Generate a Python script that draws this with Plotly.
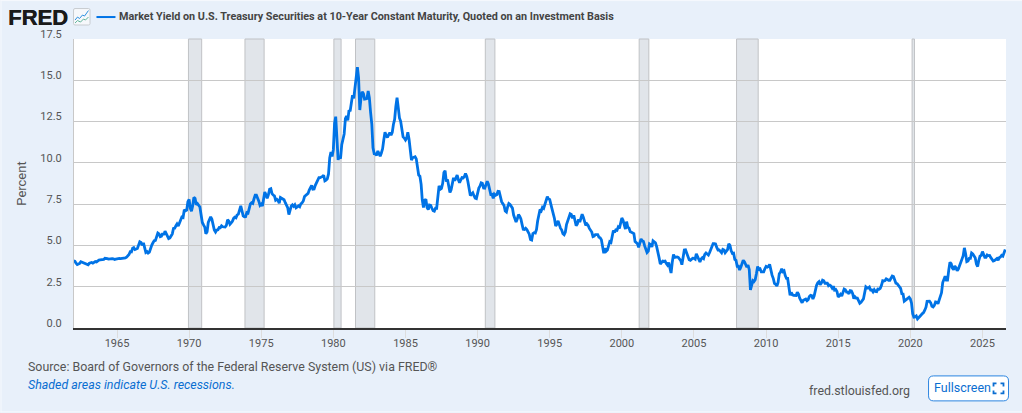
import pandas as pd
import plotly.graph_objects as go

W, H = 1022, 413
L, R, T, B = 73.5, 1006, 39, 328.5

BLUE = '#0073e6'
GREY_TEXT = '#555555'

# monthly yield, percent
y1960s = [
    4.08, 4.04, 3.93, 3.84, 3.87, 3.91, 4.01, 3.98, 3.98, 3.93, 3.92, 3.86,
    3.83, 3.92, 3.93, 3.97, 3.93, 3.99, 4.02, 4.00, 4.08, 4.11, 4.12, 4.13,
    4.17, 4.15, 4.22, 4.23, 4.20, 4.17, 4.19, 4.19, 4.20, 4.19, 4.15, 4.17,
    4.19, 4.21, 4.21, 4.20, 4.21, 4.21, 4.20, 4.25, 4.29, 4.35, 4.45, 4.62,
    4.61, 4.83, 4.87, 4.75, 4.78, 4.81, 5.02, 5.22, 5.18, 5.01, 5.16, 4.84,
    4.58, 4.63, 4.54, 4.59, 4.85, 5.02, 5.16, 5.28, 5.30, 5.48, 5.75, 5.70,
    5.53, 5.56, 5.74, 5.64, 5.87, 5.72, 5.50, 5.42, 5.46, 5.58, 5.70, 6.03,
    6.04, 6.19, 6.30, 6.17, 6.32, 6.57, 6.72, 6.69, 7.16, 7.10, 7.14, 7.65,
]
y1970s = [
    7.79, 7.24, 7.07, 7.39, 7.91, 7.84, 7.46, 7.53, 7.39, 7.33, 6.84, 6.39,
    6.24, 6.11, 5.70, 5.83, 6.39, 6.52, 6.73, 6.58, 6.14, 5.93, 5.81, 5.93,
    5.95, 6.08, 6.07, 6.19, 6.13, 6.11, 6.11, 6.21, 6.55, 6.48, 6.28, 6.36,
    6.46, 6.64, 6.71, 6.67, 6.85, 6.90, 7.13, 7.40, 7.09, 6.79, 6.73, 6.74,
    6.99, 6.96, 7.21, 7.51, 7.58, 7.54, 7.81, 8.04, 8.04, 7.90, 7.68, 7.43,
    7.50, 7.39, 7.73, 8.23, 8.06, 7.86, 8.06, 8.40, 8.43, 8.14, 8.05, 8.00,
    7.74, 7.79, 7.73, 7.56, 7.90, 7.86, 7.83, 7.77, 7.59, 7.41, 7.29, 6.87,
    7.21, 7.39, 7.46, 7.37, 7.46, 7.28, 7.33, 7.40, 7.34, 7.52, 7.58, 7.69,
    7.96, 8.03, 8.04, 8.15, 8.35, 8.46, 8.64, 8.41, 8.42, 8.64, 8.81, 9.01,
    9.10, 9.10, 9.12, 9.18, 9.25, 8.91, 8.95, 9.03, 9.33, 10.30, 10.65, 10.39,
]
y1980s = [
    10.80, 12.41, 12.80, 11.47, 10.18, 10.40, 10.25, 11.10, 11.51, 11.75, 12.68, 12.84,
    12.57, 13.19, 13.12, 13.68, 14.10, 13.90, 14.60, 14.94, 15.80, 15.15, 13.20, 13.90,
    14.30, 14.20, 13.86, 13.87, 13.90, 14.35, 13.95, 13.06, 12.34, 10.91, 10.55, 10.54,
    10.46, 10.72, 10.51, 10.40, 10.60, 10.85, 11.38, 11.85, 11.65, 11.54, 11.69, 11.83,
    11.67, 11.84, 12.32, 12.63, 13.41, 13.95, 13.36, 12.72, 12.52, 12.16, 11.57, 11.50,
    11.38, 11.51, 11.86, 11.43, 10.85, 10.16, 10.31, 10.33, 10.37, 10.24, 9.78, 9.26,
    9.19, 8.70, 7.78, 7.30, 7.71, 7.80, 7.30, 7.17, 7.45, 7.43, 7.25, 7.11,
    7.08, 7.25, 7.25, 8.02, 8.61, 8.40, 8.45, 8.76, 9.42, 9.52, 8.86, 8.99,
    8.67, 8.21, 8.37, 8.72, 9.09, 8.92, 9.06, 9.26, 8.98, 8.80, 8.96, 9.11,
    9.09, 9.17, 9.36, 9.18, 8.86, 8.28, 8.02, 8.11, 8.19, 8.01, 7.87, 7.84,
]
y1990s = [
    8.21, 8.47, 8.59, 8.79, 8.76, 8.48, 8.47, 8.75, 8.89, 8.72, 8.39, 8.08,
    8.09, 7.85, 8.11, 8.04, 8.07, 8.28, 8.27, 7.90, 7.65, 7.53, 7.42, 7.09,
    7.03, 7.34, 7.54, 7.48, 7.39, 7.26, 6.84, 6.59, 6.42, 6.59, 6.87, 6.77,
    6.60, 6.26, 5.98, 5.97, 6.04, 5.96, 5.81, 5.68, 5.36, 5.33, 5.72, 5.77,
    5.75, 5.97, 6.48, 6.97, 7.18, 7.10, 7.30, 7.24, 7.46, 7.74, 7.96, 7.81,
    7.78, 7.47, 7.20, 7.06, 6.63, 6.17, 6.28, 6.49, 6.20, 6.04, 5.93, 5.71,
    5.65, 5.81, 6.27, 6.51, 6.74, 6.91, 6.87, 6.64, 6.83, 6.53, 6.20, 6.30,
    6.58, 6.42, 6.69, 6.89, 6.71, 6.49, 6.22, 6.30, 6.21, 6.03, 5.88, 5.81,
    5.54, 5.57, 5.65, 5.64, 5.65, 5.50, 5.46, 5.34, 4.81, 4.53, 4.83, 4.65,
    4.72, 5.00, 5.23, 5.18, 5.54, 5.90, 5.79, 5.94, 5.92, 6.11, 6.03, 6.28,
]
y2000s = [
    6.66, 6.52, 6.26, 5.99, 6.44, 6.10, 6.05, 5.83, 5.80, 5.74, 5.72, 5.24,
    5.16, 5.10, 4.89, 5.14, 5.39, 5.28, 5.24, 4.97, 4.73, 4.57, 4.65, 5.09,
    5.04, 4.91, 5.28, 5.21, 5.16, 4.93, 4.65, 4.26, 3.87, 3.94, 4.05, 4.03,
    4.05, 3.90, 3.81, 3.96, 3.57, 3.33, 3.98, 4.45, 4.27, 4.29, 4.30, 4.27,
    4.15, 4.08, 3.83, 4.35, 4.72, 4.73, 4.50, 4.28, 4.13, 4.10, 4.19, 4.23,
    4.22, 4.17, 4.50, 4.34, 4.14, 4.00, 4.18, 4.26, 4.20, 4.46, 4.54, 4.47,
    4.42, 4.57, 4.72, 4.99, 5.11, 5.11, 5.09, 4.88, 4.72, 4.73, 4.60, 4.56,
    4.76, 4.72, 4.56, 4.69, 4.75, 5.10, 5.00, 4.67, 4.52, 4.53, 4.15, 4.10,
    3.74, 3.74, 3.51, 3.68, 3.88, 4.10, 4.01, 3.89, 3.69, 3.81, 3.53, 2.30,
    2.52, 2.87, 2.82, 2.93, 3.29, 3.72, 3.56, 3.59, 3.40, 3.39, 3.40, 3.59,
]
y2010s = [
    3.73, 3.69, 3.73, 3.85, 3.42, 3.20, 3.01, 2.70, 2.65, 2.54, 2.76, 3.29,
    3.39, 3.58, 3.41, 3.46, 3.17, 3.00, 3.00, 2.30, 1.98, 2.15, 2.01, 1.98,
    1.97, 1.97, 2.17, 2.05, 1.80, 1.62, 1.53, 1.68, 1.72, 1.75, 1.65, 1.72,
    1.91, 1.98, 1.96, 1.76, 1.93, 2.30, 2.58, 2.74, 2.81, 2.62, 2.72, 2.90,
    2.86, 2.71, 2.72, 2.71, 2.56, 2.60, 2.54, 2.42, 2.53, 2.30, 2.33, 2.21,
    1.88, 1.98, 2.04, 1.94, 2.20, 2.36, 2.32, 2.17, 2.17, 2.07, 2.26, 2.24,
    2.09, 1.78, 1.89, 1.81, 1.81, 1.64, 1.50, 1.56, 1.63, 1.76, 2.14, 2.49,
    2.43, 2.42, 2.48, 2.30, 2.30, 2.19, 2.32, 2.21, 2.20, 2.36, 2.35, 2.40,
    2.58, 2.86, 2.84, 2.87, 2.98, 2.91, 2.89, 2.89, 3.00, 3.15, 3.12, 2.83,
    2.71, 2.68, 2.57, 2.53, 2.40, 2.07, 2.06, 1.63, 1.70, 1.71, 1.81, 1.86,
]
y2020s = [
    1.76, 1.50, 0.87, 0.66, 0.67, 0.73, 0.55, 0.65, 0.68, 0.79, 0.87, 0.93,
    1.08, 1.26, 1.61, 1.64, 1.62, 1.52, 1.32, 1.28, 1.37, 1.58, 1.56, 1.47,
    1.76, 1.93, 2.13, 2.75, 2.90, 3.14, 2.90, 2.90, 3.52, 3.98, 3.89, 3.62,
    3.53, 3.75, 3.66, 3.46, 3.57, 3.75, 3.90, 4.17, 4.38, 4.85, 4.50, 4.02,
    4.06, 4.21, 4.21, 4.54, 4.48, 4.31, 4.25, 3.87, 3.72, 4.10, 4.36, 4.39,
    4.63, 4.45, 4.28, 4.28, 4.42, 4.38, 4.39, 4.26, 4.12, 4.06, 4.09, 4.14,
    4.21, 4.10, 4.25, 4.30, 4.40, 4.35, 4.50, 4.75,
]
yields = y1960s + y1970s + y1980s + y1990s + y2000s + y2010s + y2020s
dates = pd.date_range('1962-01-01', periods=len(yields), freq='MS')

rec_start = ['1969-12-15', '1973-11-15', '1980-01-15', '1981-07-15', '1990-07-15', '2001-03-15', '2007-12-15', '2020-02-15']
rec_end = ['1970-11-15', '1975-03-15', '1980-07-15', '1982-11-15', '1991-03-15', '2001-11-15', '2009-06-15', '2020-04-15']

y_ticks = [0, 2.5, 5, 7.5, 10, 12.5, 15, 17.5]
x_ticks = ['1965', '1970', '1975', '1980', '1985', '1990', '1995', '2000', '2005', '2010', '2015', '2020', '2025']

title_text = 'Market Yield on U.S. Treasury Securities at 10-Year Constant Maturity, Quoted on an Investment Basis'
source_text = 'Source: Board of Governors of the Federal Reserve System (US) via FRED®'
shade_text = 'Shaded areas indicate U.S. recessions.'


# chrome (logo, button) is placed in page pixels
def px(x):
    return (x - L) / (R - L)


def py(y):
    return (B - y) / (B - T)


def path(points, close=False):
    s = ' '.join(('M' if i == 0 else 'L') + f'{px(a):.4f},{py(b):.4f}' for i, (a, b) in enumerate(points))
    return s + (' Z' if close else '')


def round_box(x0, y0, x1, y1, r):
    p = lambda a, b: f'{px(a):.4f},{py(b):.4f}'
    return (
        f'M{p(x0 + r, y0)} L{p(x1 - r, y0)} Q{p(x1, y0)} {p(x1, y0 + r)} '
        f'L{p(x1, y1 - r)} Q{p(x1, y1)} {p(x1 - r, y1)} '
        f'L{p(x0 + r, y1)} Q{p(x0, y1)} {p(x0, y1 - r)} '
        f'L{p(x0, y0 + r)} Q{p(x0, y0)} {p(x0 + r, y0)} Z'
    )


def label(x, y, text, size=13, color=GREY_TEXT, xanchor='left', font='Roboto', **kw):
    fig.add_annotation(
        xref='paper', yref='paper', x=px(x), y=py(y), text=text, showarrow=False,
        xanchor=xanchor, yanchor='middle', align='left',
        font=dict(family=font, size=size, color=color, **kw)
    )


def rbox(x0, y0, x1, y1, r, **kw):
    fig.add_shape(type='path', xref='paper', yref='paper', path=round_box(x0, y0, x1, y1, r), **kw)


def stroke(points, color, width):
    fig.add_shape(type='path', xref='paper', yref='paper', path=path(points), line=dict(color=color, width=width))


fig = go.Figure()

fig.add_scatter(
    x=dates,
    y=yields,
    mode='lines',
    name='DGS10',
    line=dict(color=BLUE, width=2.8),
    hovertemplate='%{x|%b %Y}: %{y:.2f}<extra></extra>',
)

# recession bands
for s, e in zip(rec_start, rec_end):
    fig.add_vrect(x0=s, x1=e, layer='below', fillcolor='#e1e5ea', opacity=1, line=dict(color='#c0c2c5', width=1))

fig.update_layout(
    width=W,
    height=H,
    margin=dict(l=L, r=W - R, t=T, b=H - B, pad=0),
    paper_bgcolor='#e8f0fa',
    plot_bgcolor='white',
    showlegend=False,
    font=dict(family='Roboto', size=11, color=GREY_TEXT),
)
fig.update_xaxes(
    range=['1962-01-08', '2026-08-20'],
    tickvals=[t + '-01-01' for t in x_ticks],
    ticktext=x_ticks,
    ticks='outside',
    ticklen=8,
    tickcolor='#dddddd',
    tickwidth=1,
    ticklabelstandoff=-4,
    showgrid=False,
    zeroline=False,
    showline=True,
    linecolor='#333333',
    linewidth=2,
    tickfont=dict(size=11, color=GREY_TEXT),
)
fig.update_yaxes(
    range=[0, 17.5],
    tickvals=y_ticks,
    tickformat='.1f',
    ticks='',
    showgrid=True,
    gridcolor='#c8c8c8',
    gridwidth=1.2,
    zeroline=False,
    showline=True,
    linecolor='#c8c8c8',
    linewidth=1,
    ticklabelstandoff=9,
    ticklabelshift=-5,
    tickfont=dict(size=11, color=GREY_TEXT),
    title=dict(text='Percent', font=dict(size=13, color=GREY_TEXT), standoff=10),
)

# thin pale edge round the card
stroke([(0, 0.5), (W, 0.5)], '#f6f9fd', 1)
stroke([(0.5, 0), (0.5, H)], '#f6f9fd', 1)
stroke([(0, H - 0.5), (W, H - 0.5)], '#f6f9fd', 1)

# header
label(5.5, 17, '<b>FRED</b>', size=22, color='#1a1a1a', font='Liberation Sans', shadow='0.6px 0 0 #1a1a1a')
rbox(73, 8.5, 89.5, 25, 1.5, fillcolor='#f6f8fb', line=dict(color='#c8ccd0', width=1))
stroke([(74.5, 20), (77, 17), (79, 18.5), (82, 15), (84, 16), (88, 10.5)], '#2a8fe0', 1)
stroke([(74.5, 23), (77, 20.5), (80, 22), (83, 19), (85, 20), (88, 17)], '#5fb49a', 1)
stroke([(96, 17), (115, 17)], BLUE, 2)
label(117, 16.5, '<b>' + title_text + '</b>', size=10.8, color='#444444')

# footer
label(25, 367, source_text, size=12.4)
label(25, 385, '<i>' + shade_text + '</i>', size=12.4, color='#0a6ed1')
label(807, 391, 'fred.stlouisfed.org', size=12.4)

# fullscreen button
rbox(928.5, 376.5, 1008.5, 401.5, 5, fillcolor='white', line=dict(color='#2a84e0', width=1))
label(932, 388, 'Fullscreen', size=12.5, color='#0a6ed1')
for a, b, dx, dy in [(993.5, 384, 1, 1), (1003.5, 384, -1, 1), (993.5, 394, 1, -1), (1003.5, 394, -1, -1)]:
    stroke([(a + 3 * dx, b), (a, b), (a, b + 3 * dy)], '#0a6ed1', 1.8)

fig.write_html('out.html', config=dict(displayModeBar=False), post_script="document.body.style.margin='0';")
